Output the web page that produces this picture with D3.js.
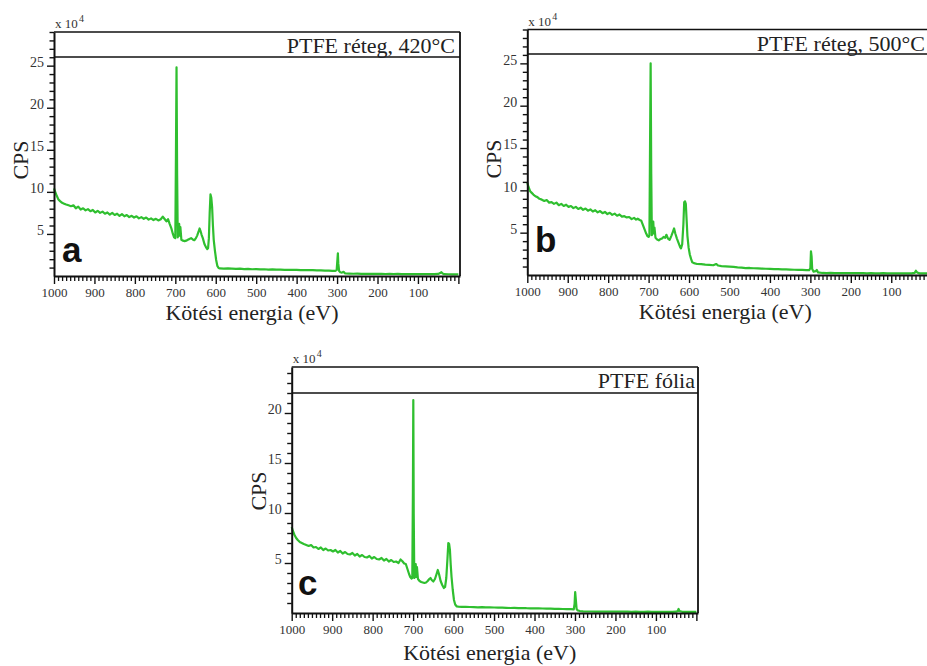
<!DOCTYPE html>
<html>
<head>
<meta charset="utf-8">
<script src="https://cdn.jsdelivr.net/npm/d3@7/dist/d3.min.js"></script>
<style>
  html, body { margin: 0; padding: 0; background: #fff; }
  svg { display: block; }
</style>
</head>
<body>
<svg id="chart" width="927" height="666"></svg>
<script>
// ---------- DATA (CPS in units of 10^4, binding energy in eV) ----------
const energyA = [
  1000, 997, 993, 989, 985, 980, 975, 970, 964, 958,
  952, 946, 940, 934, 928, 922, 916, 910, 904, 898,
  892, 886, 880, 874, 868, 862, 856, 850, 844, 838,
  832, 826, 820, 814, 808, 802, 796, 790, 784, 778,
  772, 766, 760, 754, 748, 742, 736, 731, 727, 722,
  718, 714, 710, 706, 703, 700, 698.5, 697, 695.5, 694,
  692, 690.5, 689, 687.5, 685, 681, 677, 673, 669, 665,
  661, 657, 653, 649, 646, 643, 640, 638, 635, 632,
  628, 624, 621, 619, 617, 615, 613, 611, 609, 607,
  605, 602, 599, 596, 593, 590, 580, 570, 560, 550,
  540, 530, 520, 510, 500, 490, 480, 470, 460, 450,
  440, 430, 420, 410, 400, 390, 380, 370, 360, 350,
  340, 330, 320, 312, 305, 301, 299, 298, 297, 295,
  292, 288, 284, 280, 270, 260, 250, 240, 230, 220,
  210, 200, 190, 180, 170, 160, 150, 140, 130, 120,
  110, 100, 90, 80, 70, 60, 50, 45, 42, 39,
  35, 25, 15, 5, 0
];
const cpsA = [
  10.4, 10.0, 9.5, 9.1, 8.9, 8.7, 8.6, 8.5, 8.4, 8.3,
  8.4, 8.05, 8.25, 7.9, 8.05, 7.8, 7.95, 7.7, 7.85, 7.55,
  7.75, 7.5, 7.65, 7.4, 7.55, 7.3, 7.5, 7.25, 7.4, 7.15,
  7.35, 7.1, 7.25, 7.0, 7.15, 6.95, 7.1, 6.85, 7.0, 6.8,
  6.95, 6.7, 6.85, 6.65, 6.8, 6.6, 6.75, 7.05, 6.8, 6.5,
  6.75, 6.2, 5.7, 5.0, 4.6, 4.5, 14, 24.8, 12, 4.6,
  5.0, 6.2, 4.8, 5.8, 4.3, 4.2, 4.15, 4.2, 4.3, 4.4,
  4.5, 4.35, 4.25, 4.5, 4.8, 5.2, 5.65, 5.4, 4.9, 4.5,
  3.8, 3.4, 3.2, 3.3, 4.5, 7.5, 9.7, 9.3, 8.2, 6.0,
  4.3, 3.0, 1.9, 1.2, 0.95, 0.9, 0.88, 0.9, 0.87, 0.85,
  0.87, 0.82, 0.84, 0.8, 0.82, 0.79, 0.8, 0.76, 0.78, 0.75,
  0.76, 0.73, 0.74, 0.72, 0.73, 0.7, 0.71, 0.69, 0.7, 0.67,
  0.68, 0.65, 0.64, 0.62, 0.6, 0.7, 2.0, 2.7, 1.5, 0.6,
  0.45, 0.4, 0.5, 0.3, 0.28, 0.27, 0.28, 0.26, 0.27, 0.25,
  0.26, 0.25, 0.26, 0.24, 0.25, 0.24, 0.25, 0.23, 0.24, 0.23,
  0.24, 0.22, 0.23, 0.22, 0.23, 0.22, 0.25, 0.35, 0.45, 0.3,
  0.22, 0.21, 0.2, 0.2, 0.2
];

const energyB = [
  1000, 997, 993, 989, 985, 980, 975, 970, 964, 958,
  952, 946, 940, 934, 928, 922, 916, 910, 904, 898,
  892, 886, 880, 874, 868, 862, 856, 850, 844, 838,
  832, 826, 820, 814, 808, 802, 796, 790, 784, 778,
  772, 766, 760, 754, 748, 742, 736, 731, 727, 722,
  718, 714, 710, 706, 703, 700, 698, 696.5, 695, 693.5,
  692, 690, 688.5, 687, 685.5, 683, 679, 675, 671, 667,
  663, 659, 656, 652, 648, 644, 640, 637, 634, 630,
  626, 622, 620, 617, 614, 612, 610, 608, 606, 604,
  601, 598, 595, 592, 588, 580, 570, 560, 550, 540,
  533, 528, 520, 510, 500, 490, 480, 470, 460, 450,
  440, 430, 420, 410, 400, 390, 380, 370, 360, 350,
  340, 330, 320, 310, 303, 300, 298.5, 297, 295.5, 292,
  287, 284, 281, 270, 260, 250, 240, 230, 220, 210,
  200, 190, 180, 170, 160, 150, 140, 130, 120, 110,
  100, 90, 80, 70, 60, 50, 42, 39, 36, 30,
  20, 10, 0
];
const cpsB = [
  10.9, 10.4, 9.9, 9.7, 9.5, 9.3, 9.2, 9.0, 8.9, 8.75,
  8.85, 8.55, 8.6, 8.4, 8.55, 8.25, 8.4, 8.15, 8.3, 8.05,
  8.15, 7.9, 8.05, 7.8, 7.95, 7.7, 7.85, 7.6, 7.75, 7.5,
  7.65, 7.4, 7.55, 7.3, 7.45, 7.2, 7.35, 7.1, 7.25, 7.0,
  7.15, 6.9, 6.95, 6.8, 6.85, 6.6, 6.75, 6.55, 6.65, 6.5,
  6.4, 5.9, 5.4, 4.9, 4.6, 4.5, 4.7, 15, 25.0, 12,
  4.7, 5.0, 6.3, 4.9, 5.6, 4.4, 4.2, 4.1, 4.25, 4.3,
  4.5, 4.4, 4.75, 4.3, 4.15, 4.6, 5.1, 5.5, 4.9, 4.3,
  3.8, 3.3, 3.15, 3.6, 6.0, 8.6, 8.7, 8.4, 6.5, 4.6,
  3.2, 2.4, 1.9, 1.5, 1.4, 1.3, 1.28, 1.22, 1.2, 1.15,
  1.3, 1.12, 1.05, 1.02, 0.98, 0.95, 0.9, 0.88, 0.82, 0.83,
  0.8, 0.78, 0.76, 0.74, 0.73, 0.7, 0.69, 0.66, 0.67, 0.64,
  0.62, 0.6, 0.6, 0.58, 0.57, 0.8, 2.8, 2.2, 0.7, 0.4,
  0.45, 0.6, 0.3, 0.24, 0.23, 0.24, 0.22, 0.23, 0.22, 0.22,
  0.21, 0.22, 0.21, 0.21, 0.2, 0.21, 0.2, 0.2, 0.21, 0.2,
  0.2, 0.19, 0.2, 0.19, 0.19, 0.2, 0.25, 0.5, 0.3, 0.19,
  0.19, 0.18, 0.18
];

const energyC = [
  1000, 997, 993, 989, 985, 980, 975, 970, 964, 958,
  952, 946, 940, 934, 928, 922, 916, 910, 904, 898,
  892, 886, 880, 874, 868, 862, 856, 850, 844, 838,
  832, 826, 820, 814, 808, 802, 796, 790, 784, 778,
  772, 766, 760, 754, 748, 742, 736, 731, 727, 722,
  718, 714, 710, 707, 704, 702, 700.5, 699.5, 698.5, 697,
  695, 693.5, 692, 690.5, 688, 684, 680, 676, 672, 668,
  664, 660, 657, 654, 650, 646, 642, 639, 636, 632,
  628, 624, 621, 618, 615, 613, 611, 609, 607, 605,
  602, 599, 596, 592, 588, 580, 570, 560, 550, 540,
  530, 520, 510, 500, 490, 480, 470, 460, 450, 440,
  430, 420, 410, 400, 390, 380, 370, 360, 350, 340,
  330, 320, 310, 303, 301, 299.5, 298, 296, 293, 288,
  280, 270, 260, 250, 240, 230, 220, 210, 200, 190,
  180, 170, 160, 150, 140, 130, 120, 110, 100, 90,
  80, 70, 60, 50, 46, 44, 42, 35, 20, 0
];
const cpsC = [
  8.6, 8.2, 7.8, 7.5, 7.3, 7.1, 7.0, 6.9, 6.8, 6.7,
  6.8, 6.55, 6.6, 6.4, 6.55, 6.3, 6.45, 6.25, 6.3, 6.15,
  6.3, 6.05, 6.2, 5.95, 6.1, 5.9, 5.85, 6.0, 5.75, 5.9,
  5.65, 5.8, 5.6, 5.55, 5.7, 5.45, 5.6, 5.4, 5.35, 5.5,
  5.25, 5.4, 5.15, 5.3, 5.1, 5.15, 5.0, 5.35, 5.2, 4.95,
  4.9, 4.4, 3.9, 3.6, 3.45, 3.5, 12, 21.3, 10, 3.5,
  3.7, 4.9, 3.6, 4.6, 3.4, 3.2, 3.1, 3.05, 3.0, 3.05,
  3.2, 3.4, 3.5, 3.3, 3.15, 3.4, 3.9, 4.3, 3.9, 3.2,
  2.8, 2.5, 2.6, 3.5, 5.5, 7.0, 6.9, 6.3, 4.8, 3.6,
  2.3, 1.3, 0.85, 0.65, 0.63, 0.62, 0.61, 0.6, 0.59, 0.57,
  0.58, 0.56, 0.56, 0.55, 0.54, 0.53, 0.52, 0.5, 0.51, 0.49,
  0.5, 0.48, 0.47, 0.46, 0.46, 0.45, 0.44, 0.43, 0.42, 0.41,
  0.4, 0.39, 0.38, 0.37, 0.9, 2.1, 1.4, 0.4, 0.25, 0.2,
  0.16, 0.15, 0.15, 0.14, 0.14, 0.14, 0.13, 0.14, 0.13, 0.13,
  0.13, 0.13, 0.12, 0.13, 0.12, 0.12, 0.13, 0.12, 0.12, 0.12,
  0.12, 0.12, 0.12, 0.13, 0.2, 0.4, 0.2, 0.12, 0.12, 0.12
];

const xTickLabels = [1000, 900, 800, 700, 600, 500, 400, 300, 200, 100];
const yTicksAB = [5, 10, 15, 20, 25];
const yTicksC = [5, 10, 15, 20];
const panelTitles = ["PTFE réteg, 420°C", "PTFE réteg, 500°C", "PTFE fólia"];
const panelLetters = ["a", "b", "c"];
const xTitle = "Kötési energia (eV)";
const yTitle = "CPS";

// ---------- LAYOUT ----------
const SERIF = "'Liberation Serif', 'Times New Roman', serif";
const panels = [
  { energy: energyA, cps: cpsA, yTicks: yTicksAB, yMax: 29, title: panelTitles[0], letter: panelLetters[0],
    left: 54, right: 460, top: 32, bottom: 276, bar: 57, letterX: 62, letterY: 262, titleRight: 455, titleY: 53, cpsY: 160, xTitleOff: 44 },
  { energy: energyB, cps: cpsB, yTicks: yTicksAB, yMax: 29, title: panelTitles[1], letter: panelLetters[1],
    left: 527.3, right: 933.3, top: 29.5, bottom: 275, bar: 54, letterX: 535, letterY: 252, titleRight: 925, titleY: 51, cpsY: 159, xTitleOff: 44 },
  { energy: energyC, cps: cpsC, yTicks: yTicksC, yMax: 24.6, title: panelTitles[2], letter: panelLetters[2],
    left: 291.7, right: 698, top: 367, bottom: 613, bar: 393, letterX: 298, letterY: 595, titleRight: 695, titleY: 388, cpsY: 491, xTitleOff: 47 }
];

const svg = d3.select("#chart");
const green = "#2fbf2f";

panels.forEach(p => {
  const g = svg.append("g");
  const x = d3.scaleLinear().domain([1000, -4]).range([p.left, p.right]);
  const y = d3.scaleLinear().domain([0, p.yMax]).range([p.bottom, p.top]);

  // curve
  const pts = p.energy.map((e, i) => [e, p.cps[i]]);
  g.append("path")
    .datum(pts)
    .attr("fill", "none")
    .attr("stroke", green)
    .attr("stroke-width", 2.2)
    .attr("stroke-linejoin", "round")
    .attr("d", d3.line().x(d => x(d[0])).y(d => y(d[1])));

  // frame: top, right, title bar
  g.append("line").attr("x1", p.left).attr("x2", p.right).attr("y1", p.top).attr("y2", p.top)
    .attr("stroke", "#111").attr("stroke-width", 1.6);
  g.append("line").attr("x1", p.right).attr("x2", p.right).attr("y1", p.top).attr("y2", p.bottom)
    .attr("stroke", "#111").attr("stroke-width", 1.8);
  g.append("line").attr("x1", p.left).attr("x2", p.right).attr("y1", p.bar).attr("y2", p.bar)
    .attr("stroke", "#111").attr("stroke-width", 1.6);

  // x minor ticks
  const xMinor = d3.range(1000, -1, -10).filter(v => v % 100 !== 0);
  const xMinorAxis = g.append("g").attr("transform", `translate(0,${p.bottom})`)
    .call(d3.axisBottom(x).tickValues(xMinor).tickSize(5).tickSizeOuter(0).tickFormat(""));
  xMinorAxis.select(".domain").remove();
  xMinorAxis.selectAll("text").remove();
  xMinorAxis.selectAll("line").attr("stroke", "#111").attr("stroke-width", 1.3);

  // x major axis
  const xAxis = g.append("g").attr("transform", `translate(0,${p.bottom})`)
    .call(d3.axisBottom(x).tickValues(xTickLabels.concat([0])).tickSize(8).tickSizeOuter(0).tickPadding(4)
      .tickFormat(d => d === 0 ? "" : d));
  xAxis.attr("font-family", SERIF);
  xAxis.select(".domain").attr("stroke", "#111").attr("stroke-width", 2);
  xAxis.selectAll(".tick line").attr("stroke", "#111").attr("stroke-width", 1.4);
  xAxis.selectAll("text").attr("font-family", SERIF).attr("font-size", 13).attr("fill", "#333");

  // y minor ticks
  const yMinor = d3.range(1, Math.floor(p.yMax) + 1).filter(v => v % 5 !== 0);
  const yMinorAxis = g.append("g").attr("transform", `translate(${p.left},0)`)
    .call(d3.axisLeft(y).tickValues(yMinor).tickSize(4.5).tickSizeOuter(0).tickFormat(""));
  yMinorAxis.select(".domain").remove();
  yMinorAxis.selectAll("text").remove();
  yMinorAxis.selectAll("line").attr("stroke", "#111").attr("stroke-width", 1.4);

  // y major axis
  const yAxis = g.append("g").attr("transform", `translate(${p.left},0)`)
    .call(d3.axisLeft(y).tickValues(p.yTicks).tickSize(7).tickSizeOuter(0).tickPadding(3));
  yAxis.attr("font-family", SERIF);
  yAxis.select(".domain").attr("stroke", "#111").attr("stroke-width", 2);
  yAxis.selectAll(".tick line").attr("stroke", "#111").attr("stroke-width", 1.4);
  yAxis.selectAll("text").attr("font-family", SERIF).attr("font-size", 14).attr("fill", "#333")
    .attr("dy", "0.05em");

  // x10^4 label
  g.append("text").attr("font-family", SERIF).attr("x", p.left + 1).attr("y", p.top - 4)
    .attr("font-size", 13).attr("fill", "#333").text("x 10");
  g.append("text").attr("font-family", SERIF).attr("x", p.left + 25).attr("y", p.top - 10)
    .attr("font-size", 10).attr("fill", "#333").text("4");

  // panel title
  g.append("text").attr("font-family", SERIF).attr("x", p.titleRight).attr("y", p.titleY)
    .attr("text-anchor", "end").attr("font-size", 22).attr("fill", "#222").text(p.title);

  // panel letter
  g.append("text").attr("x", p.letterX).attr("y", p.letterY)
    .attr("font-family", "'Liberation Sans', Arial, sans-serif").attr("font-weight", "bold")
    .attr("font-size", 35).attr("fill", "#111").text(p.letter);

  // axis titles
  g.append("text").attr("font-family", SERIF).attr("x", p.left + 198).attr("y", p.bottom + p.xTitleOff)
    .attr("text-anchor", "middle").attr("font-size", 22).attr("fill", "#222").text(xTitle);
  g.append("text").attr("font-family", SERIF)
    .attr("transform", `translate(${p.left - 26},${p.cpsY}) rotate(-90)`)
    .attr("text-anchor", "middle").attr("font-size", 22).attr("fill", "#222").text(yTitle);
});
</script>
</body>
</html>
